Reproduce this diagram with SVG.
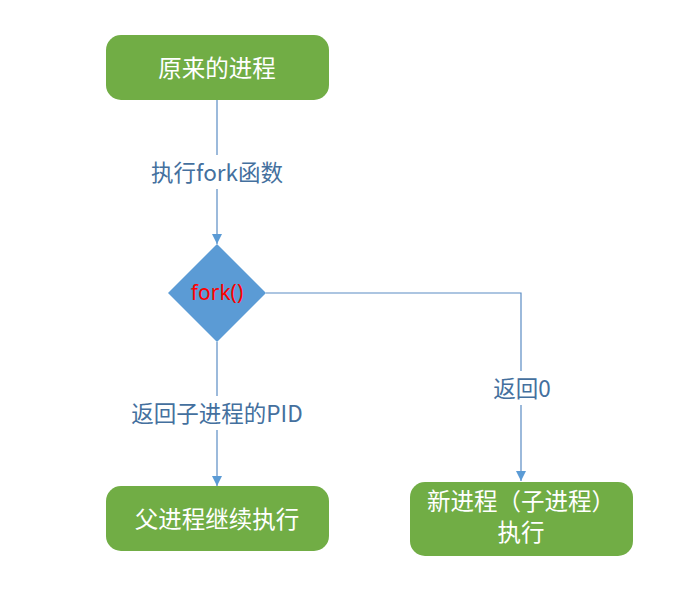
<svg xmlns="http://www.w3.org/2000/svg" width="687" height="594" viewBox="0 0 687 594">
<style>
.box{fill:#71AD45;}
.bt{fill:#ffffff;font-family:"Noto Sans CJK SC","Noto Sans",sans-serif;font-size:23.5px;text-anchor:middle;dominant-baseline:central;}
.ln{fill:none;stroke:#5A8CC4;stroke-width:1.2;}
.lb{fill:#44709E;font-family:"Noto Sans CJK SC","Noto Sans",sans-serif;font-size:22.5px;text-anchor:middle;dominant-baseline:central;}
.bg{fill:#ffffff;}
</style>
<defs>
<marker id="ah" viewBox="0 0 10 10" refX="10" refY="5" markerWidth="10" markerHeight="10" markerUnits="userSpaceOnUse" orient="auto">
<path d="M0,0 L10,5 L0,10 z" fill="#5B9BD5"/>
</marker>
</defs>
<rect width="687" height="594" fill="#ffffff"/>
<g id="connectors">
<path class="ln" d="M217,100 V244" marker-end="url(#ah)"/>
<path class="ln" d="M217,342 V486" marker-end="url(#ah)"/>
<path class="ln" d="M266,293 H521 V481" marker-end="url(#ah)"/>
<rect class="bg" x="146" y="155" width="142" height="34"/>
<text class="lb" x="217" y="171">执行fork函数</text>
<rect class="bg" x="126" y="396" width="182" height="34"/>
<text class="lb" x="217" y="412">返回子进程的PID</text>
<rect class="bg" x="488" y="371" width="68" height="34"/>
<text class="lb" x="522" y="387">返回0</text>
</g>
<g id="start">
<rect class="box" x="106" y="35" width="223" height="65" rx="15"/>
<text class="bt" x="217" y="67">原来的进程</text>
</g>
<g id="fork">
<polygon points="217,244 266,293 217,342 168,293" fill="#5B9BD5"/>
<text x="217" y="292" fill="#FF0000" font-family="'Noto Sans','Noto Sans CJK SC',sans-serif" font-size="21" text-anchor="middle" dominant-baseline="central">fork()</text>
</g>
<g id="parent">
<rect class="box" x="106" y="486" width="223" height="65" rx="15"/>
<text class="bt" x="217" y="518">父进程继续执行</text>
</g>
<g id="child">
<rect class="box" x="410" y="482" width="223" height="74" rx="15"/>
<text class="bt" x="521" y="500">新进程（子进程）</text>
<text class="bt" x="521" y="531">执行</text>
</g>
</svg>
